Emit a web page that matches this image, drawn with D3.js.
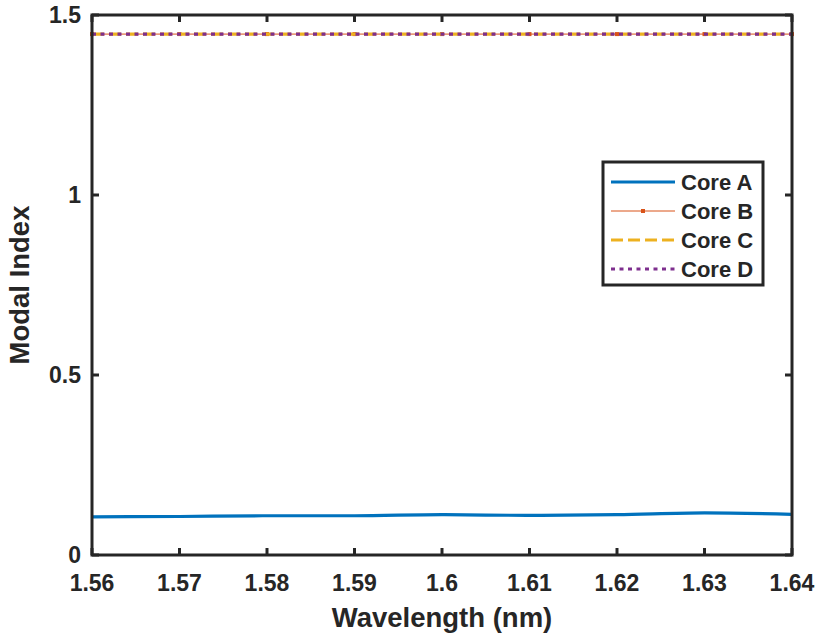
<!DOCTYPE html>
<html>
<head>
<meta charset="utf-8">
<script src="https://cdn.jsdelivr.net/npm/d3@7"></script>
<style>
  body { margin: 0; background: #fff; }
  text { font-family: "Liberation Sans", Arial, sans-serif; font-weight: bold; fill: #262626; }
</style>
</head>
<body>
<div id="chart"></div>
<script>
(function () {

  /***** Data *****/
  var wavelength = [1.56, 1.57, 1.58, 1.59, 1.60, 1.61, 1.62, 1.63, 1.64]
  var coreA = [0.106, 0.107, 0.109, 0.109, 0.112, 0.110, 0.112, 0.117, 0.113]
  var coreB = [1.447, 1.447, 1.447, 1.447, 1.447, 1.447, 1.447, 1.447, 1.447]
  var coreC = [1.447, 1.447, 1.447, 1.447, 1.447, 1.447, 1.447, 1.447, 1.447]
  var coreD = [1.447, 1.447, 1.447, 1.447, 1.447, 1.447, 1.447, 1.447, 1.447]
  var seriesNames = ["Core A", "Core B", "Core C", "Core D"]
  var xTicks = [1.56, 1.57, 1.58, 1.59, 1.60, 1.61, 1.62, 1.63, 1.64]
  var yTicks = [0, 0.5, 1, 1.5]

  /***** Configuration *****/
  var margin = { top: 15, right: 30, bottom: 79, left: 92 }
  var width = 822 - margin.left - margin.right
  var height = 634 - margin.top - margin.bottom
  var axisColor = "#262626"

  var styles = [
    { color: "#0072BD", width: 3.2, dash: null, marker: false },
    { color: "#D95319", width: 1, dash: null, marker: true },
    { color: "#EDB120", width: 3.2, dash: "12,5", marker: false },
    { color: "#7E2F8E", width: 3.2, dash: "4,4.5", marker: false }
  ]

  var svg = d3.select("#chart")
    .append("svg")
    .attr("width", width + margin.left + margin.right)
    .attr("height", height + margin.top + margin.bottom)

  var g = svg.append("g")
    .attr("transform", "translate(" + margin.left + "," + margin.top + ")")

  var x = d3.scaleLinear().domain([1.56, 1.64]).range([0, width])
  var y = d3.scaleLinear().domain([0, 1.5]).range([height, 0])

  var fmtX = function (d) { return String(+d.toFixed(2)) }
  var fmtY = function (d) { return String(d) }

  /***** Series *****/
  var seriesData = [coreA, coreB, coreC, coreD].map(function (vals) {
    return vals.map(function (v, i) { return { x: wavelength[i], y: v } })
  })

  var line = d3.line()
    .x(function (d) { return x(d.x) })
    .y(function (d) { return y(d.y) })
    .curve(d3.curveMonotoneX)

  seriesData.forEach(function (data, i) {
    var s = styles[i]
    g.append("path")
      .datum(data)
      .attr("fill", "none")
      .attr("stroke", s.color)
      .attr("stroke-width", s.width)
      .attr("stroke-dasharray", s.dash)
      .attr("d", line)
    if (s.marker) {
      g.selectAll(null)
        .data(data)
        .enter()
        .append("rect")
        .attr("x", function (d) { return x(d.x) - 2 })
        .attr("y", function (d) { return y(d.y) - 2 })
        .attr("width", 4)
        .attr("height", 4)
        .attr("fill", s.color)
    }
  })

  /***** Axes (box with inward ticks) *****/
  var tickLen = 7
  var axes = g.append("g")

  axes.selectAll(".xt")
    .data(xTicks)
    .enter()
    .append("g")
    .each(function (d) {
      var sel = d3.select(this)
      sel.append("line").attr("x1", x(d)).attr("x2", x(d))
        .attr("y1", height).attr("y2", height - tickLen)
        .attr("stroke", axisColor).attr("stroke-width", 3)
      sel.append("line").attr("x1", x(d)).attr("x2", x(d))
        .attr("y1", 0).attr("y2", tickLen)
        .attr("stroke", axisColor).attr("stroke-width", 3)
      sel.append("text").attr("x", x(d)).attr("y", height + 36)
        .attr("text-anchor", "middle").style("font-size", "23px")
        .text(fmtX(d))
    })

  axes.selectAll(".yt")
    .data(yTicks)
    .enter()
    .append("g")
    .each(function (d) {
      var sel = d3.select(this)
      sel.append("line").attr("x1", 0).attr("x2", tickLen)
        .attr("y1", y(d)).attr("y2", y(d))
        .attr("stroke", axisColor).attr("stroke-width", 3)
      sel.append("line").attr("x1", width).attr("x2", width - tickLen)
        .attr("y1", y(d)).attr("y2", y(d))
        .attr("stroke", axisColor).attr("stroke-width", 3)
      sel.append("text").attr("x", -11).attr("y", y(d)).attr("dy", "0.36em")
        .attr("text-anchor", "end").style("font-size", "23px")
        .text(fmtY(d))
    })

  axes.append("rect")
    .attr("x", 0).attr("y", 0)
    .attr("width", width).attr("height", height)
    .attr("fill", "none")
    .attr("stroke", axisColor)
    .attr("stroke-width", 3)

  g.append("text")
    .attr("x", width / 2).attr("y", height + 72)
    .attr("text-anchor", "middle").style("font-size", "27.5px")
    .text("Wavelength (nm)")

  g.append("text")
    .attr("transform", "translate(" + (-63) + "," + (height / 2) + ") rotate(-90)")
    .attr("text-anchor", "middle").style("font-size", "27.5px")
    .text("Modal Index")

  /***** Legend *****/
  var legend = g.append("g").attr("transform", "translate(" + (603 - margin.left) + "," + (162 - margin.top) + ")")
  legend.append("rect")
    .attr("width", 160).attr("height", 123)
    .attr("fill", "#fff")
    .attr("stroke", axisColor)
    .attr("stroke-width", 3)

  seriesNames.forEach(function (name, i) {
    var s = styles[i]
    var ly = 20 + i * 29
    legend.append("line")
      .attr("x1", 8).attr("x2", 72)
      .attr("y1", ly).attr("y2", ly)
      .attr("stroke", s.color)
      .attr("stroke-width", s.width)
      .attr("stroke-dasharray", s.dash)
    if (s.marker) {
      legend.append("rect")
        .attr("x", 38).attr("y", ly - 2)
        .attr("width", 4).attr("height", 4)
        .attr("fill", s.color)
    }
    legend.append("text")
      .attr("x", 78).attr("y", ly).attr("dy", "0.36em")
      .style("font-size", "22px")
      .text(name)
  })

})()
</script>
</body>
</html>
